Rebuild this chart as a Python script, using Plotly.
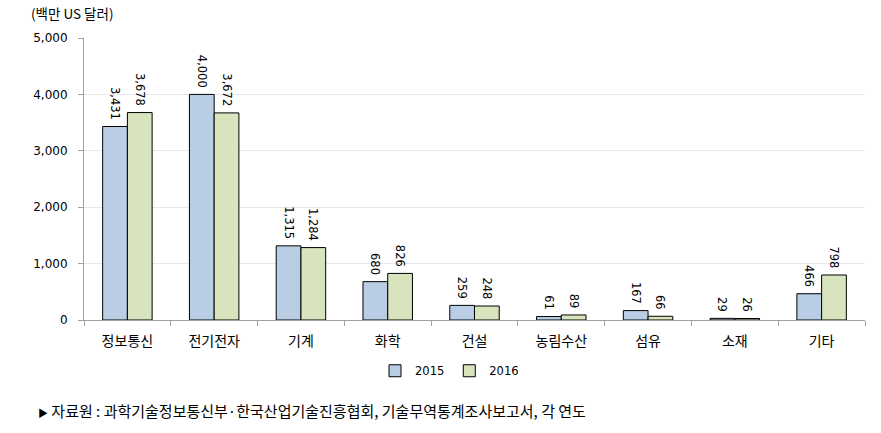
import plotly.graph_objects as go

categories = ["정보통신", "전기전자", "기계", "화학", "건설", "농림수산", "섬유", "소재", "기타"]
values_2015 = [3431, 4000, 1315, 680, 259, 61, 167, 29, 466]
values_2016 = [3678, 3672, 1284, 826, 248, 89, 66, 26, 798]
y_ticks = [0, 1000, 2000, 3000, 4000, 5000]

KR = "Noto Sans CJK KR"
NUM = "DejaVu Sans"

fig = go.Figure()
for name, vals, color in [("2015", values_2015, "#B9CDE5"), ("2016", values_2016, "#D7E4BD")]:
    fig.add_trace(go.Bar(
        x=categories, y=vals, name=name,
        marker=dict(color=color, line=dict(color="#000000", width=1)),
        text=[f"{v:,}\u00a0" for v in vals], textposition="outside", textangle=90,
        constraintext="none",
        textfont=dict(family=NUM, size=11.5, color="#000000"),
        cliponaxis=False,
    ))

fig.update_layout(
    width=881, height=433,
    margin=dict(l=84, r=16, t=38, b=113),
    paper_bgcolor="white", plot_bgcolor="white",
    barmode="group", bargap=0.43, bargroupgap=0,
    font=dict(family=KR, color="#000000"),
    legend=dict(orientation="h", x=0.468, xanchor="center", y=-0.18, yanchor="middle",
                font=dict(family=NUM, size=11.5), itemwidth=30, traceorder="normal"),
    xaxis=dict(showline=True, linecolor="#A0A0A0", linewidth=1, ticks="outside",
               tickson="boundaries", ticklen=5, tickcolor="#A0A0A0",
               ticklabelstandoff=8,
               tickfont=dict(family=KR, size=14)),
    yaxis=dict(range=[0, 5000], tickvals=y_ticks, tickformat=",", showline=True,
               linecolor="#A0A0A0", linewidth=1, ticks="outside", ticklen=5,
               tickcolor="#A0A0A0", gridcolor="#E8E8E8", zeroline=False,
               ticklabelstandoff=8,
               tickfont=dict(family=NUM, size=12)),
    annotations=[
        dict(text="(백만 US 달러)", xref="paper", yref="paper", x=-0.071, y=1.045,
             xanchor="left", yanchor="bottom", showarrow=False,
             font=dict(family=KR, size=13.5)),
        dict(text="<span style='font-size:10px'>▶</span> 자료원 : 과학기술정보통신부·한국산업기술진흥협회, 기술무역통계조사보고서, 각 연도",
             xref="paper", yref="paper", x=-0.061, y=-0.32, xanchor="left", yanchor="middle",
             showarrow=False, font=dict(family=KR, size=15)),
    ],
)

fig.write_html("out.html")
